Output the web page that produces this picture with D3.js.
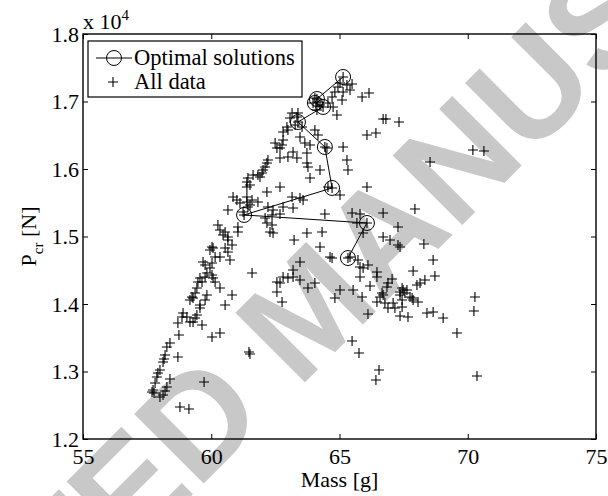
<!DOCTYPE html>
<html>
<head>
<meta charset="utf-8">
<script src="https://cdn.jsdelivr.net/npm/d3@7"></script>
<style>
  body { margin: 0; background: #fff; }
  svg text { font-family: "Liberation Serif", "Times New Roman", serif; }
</style>
</head>
<body>
<div id="chart"></div>
<script>
// every design evaluated: [mass in g, critical load in N]
const allData = [
  [65.14,17363],[65.02,17274],[65.29,17244],[65.41,17170],[64.94,17215],[64.82,17141],[65.14,17141],
  [65.49,17259],[65.88,17067],[66.15,17126],[65.10,17022],[64.75,16919],[64.90,16800],[64.04,17052],
  [64.16,16993],[63.97,16978],[64.24,16948],[64.36,16919],[64.12,16874],[64.55,16978],[64.71,17067],
  [64.12,17037],[66.70,16741],[66.81,16741],[67.32,16696],[66.07,16504],[66.42,16533],[68.53,16104],
  [70.20,16281],[70.63,16267],
  [63.15,16830],[63.38,16830],[63.34,16770],[63.07,16756],[63.38,16696],[63.27,16652],[63.54,16622],
  [62.95,16622],[62.80,16548],[62.99,16578],[64.04,16578],[64.16,16504],[63.46,16474],[63.65,16385],
  [62.80,16430],[62.76,16356],[62.49,16385],[62.56,16311],[62.68,16311],[64.51,16311],[64.43,16326],
  [65.14,16326],[65.29,16133],[65.33,15985],[63.85,16356],[63.73,16237],[63.19,16252],[63.34,16163],
  [62.99,16178],[62.68,16163],[63.73,16089],[63.77,16030],[64.24,15985],[63.85,15867],[64.55,15733],
  [64.71,15719],[62.21,16133],[62.17,16089],[62.10,16030],[62.02,15985],[61.98,15941],[61.90,15881],
  [61.82,15911],[61.63,15911],[61.43,15867],[61.39,15807],[61.51,15763],[61.39,15733],[62.17,15659],
  [62.68,15733],[66.07,15733],[63.15,15585],[63.46,15570],[63.58,15541],[60.85,15585],[61.00,15541],
  [61.12,15496],[61.39,15511],[61.59,15541],[60.65,15393],[61.24,15363],[61.43,15437],[64.43,15333],
  [62.21,15437],[62.41,15393],[62.68,15333],[62.37,15319],[65.02,15615],[65.49,15348],[65.80,15333],
  [61.39,15585],[61.51,15467],[61.82,15511],[63.19,15422],[62.80,15437],[62.10,15274],[62.17,15200],
  [62.37,15170],[62.29,15067],[62.41,15052],[63.73,15052],[64.32,15067],[63.23,14948],[64.24,14844],
  [64.63,14696],[61.28,15319],
  [60.26,15170],[60.34,15096],[60.54,15067],[60.46,15022],[60.65,14993],[61.04,15141],[61.04,15067],
  [60.65,14948],[60.81,14874],[60.03,14844],[60.07,14830],[59.95,14800],[60.54,14830],[60.65,14770],
  [60.73,14652],[60.34,14696],[60.15,14696],[59.68,14622],[59.76,14578],[60.03,14607],[59.95,14533],
  [59.83,14459],[59.76,14400],[60.03,14430],[60.07,14385],[60.15,14326],[59.56,14385],[59.48,14326],
  [59.64,14326],[60.34,14237],[59.44,14237],[59.37,14163],[59.83,14133],[59.76,14059],[59.25,14104],
  [59.17,14059],[59.29,14089],[60.81,14133],[60.54,13985],[59.56,13985],[59.56,13941],[58.90,13867],
  [58.86,13807],[59.05,13807],[59.44,13837],[59.37,13793],[59.17,13733],[59.29,13733],[58.70,13719],
  [59.64,13689],[61.59,14459],[63.46,14622],[63.19,14504],[62.80,14400],[62.99,14385],[63.19,14400],
  [62.56,14326],[62.68,14311],[62.56,14178],[63.46,14356],[63.77,14237],[64.04,14311],[62.76,14030],
  [64.82,14089],[58.74,13541],[58.39,13422],[58.27,13363],[58.20,13244],[58.12,13141],[58.00,13022],
  [57.92,12978],[58.70,13215],[58.16,13185],[60.03,13511],[60.34,13570],[61.47,13289],[61.51,13259],
  [57.88,12919],[57.81,12830],[57.73,12726],[57.69,12696],[57.77,12681],[58.27,12770],[58.20,12711],
  [59.72,12844],[58.00,12622],[58.12,12652],[58.78,12474],[59.13,12444],[58.39,12889],
  [65.68,15200],[66.07,15200],[66.70,15348],[67.94,15407],[65.92,15052],[67.28,15141],[66.70,14993],
  [66.97,14948],[67.28,14874],[67.36,14844],[68.29,14889],[68.65,14652],[64.71,14681],[65.33,14681],
  [65.41,14696],[65.72,14652],[65.80,14548],[65.92,14533],[66.11,14578],[65.80,14400],[66.46,14474],
  [66.46,14400],[66.19,14267],[67.87,14489],[68.72,14415],[68.33,14356],[68.02,14281],[68.14,14311],
  [65.02,14207],[65.53,14207],[65.88,14104],[67.05,14370],[66.89,14311],[66.85,14252],[66.66,14163],
  [66.70,14133],[66.58,14104],[67.44,14237],[67.48,14207],[67.36,14178],[67.63,14207],[67.55,14163],
  [67.75,14104],[67.83,14089],[67.87,14059],[68.06,14030],[67.36,14133],[67.44,14059],[66.46,14030],
  [66.77,14015],[67.09,14015],[66.89,13941],[67.16,13941],[67.44,13956],[66.11,13852],[67.36,13822],
  [67.67,13807],[68.41,13867],[68.65,13881],[69.04,13793],[70.28,14104],[70.24,13896],[69.58,13570],
  [65.49,13452],[65.76,13274],[66.54,13022],[66.42,12874],[70.36,12933]
];

// pareto front, joined in order of falling critical load
const optimal = [
  [65.14,17363],[64.12,17037],[64.04,16978],[64.36,16919],[63.38,16696],
  [64.43,16326],[64.71,15719],[61.28,15319],[66.07,15200],[65.33,14681]
];

const xTicks = [55, 60, 65, 70, 75];
const yTicks = [12000, 13000, 14000, 15000, 16000, 17000, 18000];
const legendLabels = ["Optimal solutions", "All data"];

(function(){

  let width = 608;
  let height = 496;
  let left = 83, right = 596, top = 34, bottom = 439;

  let svg = d3.select('#chart')
            .append("svg")
            .attr("width", width)
            .attr("height", height)
            .style("display", "block");

  svg.append("rect").attr("width", width).attr("height", height).attr("fill", "#fff");

  let x = d3.scaleLinear().domain([55, 75]).range([left, right]);
  let y = d3.scaleLinear().domain([12000, 18000]).range([bottom, top]);

  //watermark of the journal, sits behind everything
  let wm = svg.append("g")
      .attr("transform", "translate(248,367) rotate(-45)")
      .attr("fill", "#c8c8c8")
      .style("font-weight", "bold")
      .style("font-size", "143px");
  wm.append("text").attr("x", -20).attr("y", 51).attr("text-anchor", "end")
      .style("font-family", "'Liberation Sans', Arial, sans-serif").text("ACCEPTED");
  wm.append("text").attr("x", 20).attr("y", 51).attr("text-anchor", "start")
      .style("font-family", "'Liberation Sans', Arial, sans-serif").text("MANUSCRIPT");

  //axes, matlab style: ticks pointing inside on all four sides
  let fmtY = d => (d / 1e4).toFixed(1);

  let gx = svg.append("g").attr("transform", "translate(0," + bottom + ")")
      .call(d3.axisBottom(x).tickValues(xTicks).tickSizeInner(-5).tickSizeOuter(0).tickPadding(9));
  let gxTop = svg.append("g").attr("transform", "translate(0," + top + ")")
      .call(d3.axisTop(x).tickValues(xTicks).tickSizeInner(-5).tickSizeOuter(0).tickFormat(""));
  let gy = svg.append("g").attr("transform", "translate(" + left + ",0)")
      .call(d3.axisLeft(y).tickValues(yTicks).tickSizeInner(-5).tickSizeOuter(0).tickPadding(4).tickFormat(fmtY));
  let gyRight = svg.append("g").attr("transform", "translate(" + right + ",0)")
      .call(d3.axisRight(y).tickValues(yTicks).tickSizeInner(-5).tickSizeOuter(0).tickFormat(""));

  [gx, gxTop, gy, gyRight].forEach(function(g){
    g.select(".domain").remove();
    g.selectAll(".tick line").attr("stroke", "#000").attr("stroke-width", 1);
    g.selectAll(".tick text")
      .attr("fill", "#000")
      .style("font-family", "'Liberation Serif', 'Times New Roman', serif")
      .style("font-size", "22px");
  });

  svg.append("rect")
    .attr("x", left).attr("y", top)
    .attr("width", right - left).attr("height", bottom - top)
    .attr("fill", "none").attr("stroke", "#000").attr("stroke-width", 1.4);

  //all data as plus markers
  let plus = "M-5,0H5M0,-5V5";
  svg.append("g").selectAll(".pt")
    .data(allData)
    .enter().append("path")
    .attr("class", "pt")
    .attr("d", plus)
    .attr("transform", d => "translate(" + x(d[0]) + "," + y(d[1]) + ")")
    .attr("stroke", "#000")
    .attr("stroke-width", 1.1)
    .attr("fill", "none");

  //optimal solutions: line plus open circles
  let line = d3.line().x(d => x(d[0])).y(d => y(d[1]));
  svg.append("path")
    .datum(optimal)
    .attr("d", line)
    .attr("fill", "none")
    .attr("stroke", "#000")
    .attr("stroke-width", 1);

  svg.append("g").selectAll(".opt")
    .data(optimal)
    .enter().append("circle")
    .attr("class", "opt")
    .attr("cx", d => x(d[0]))
    .attr("cy", d => y(d[1]))
    .attr("r", 7.5)
    .attr("fill", "none")
    .attr("stroke", "#000")
    .attr("stroke-width", 1);

  //exponent above the y axis
  let expo = svg.append("text")
    .attr("x", 83).attr("y", 29)
    .style("font-size", "22px");
  expo.append("tspan").text("x 10");
  expo.append("tspan").attr("dy", -9).style("font-size", "15px").text("4");

  //axis titles
  svg.append("text")
    .attr("x", (left + right) / 2).attr("y", 487)
    .attr("text-anchor", "middle")
    .style("font-size", "22px")
    .text("Mass [g]");

  let ylab = svg.append("text")
    .attr("transform", "translate(36," + ((top + bottom) / 2) + ") rotate(-90)")
    .attr("text-anchor", "middle")
    .style("font-size", "22px");
  ylab.append("tspan").text("P");
  ylab.append("tspan").attr("dy", 7).style("font-size", "15px").text("cr");
  ylab.append("tspan").attr("dy", -7).text(" [N]");

  //legend
  let lg = svg.append("g");
  lg.append("rect")
    .attr("x", 88).attr("y", 41).attr("width", 214).attr("height", 56)
    .attr("fill", "#fff").attr("stroke", "#000").attr("stroke-width", 1.2);
  lg.append("line")
    .attr("x1", 96).attr("x2", 132).attr("y1", 58).attr("y2", 58)
    .attr("stroke", "#000").attr("stroke-width", 1);
  lg.append("circle")
    .attr("cx", 114).attr("cy", 58).attr("r", 7.5)
    .attr("fill", "none").attr("stroke", "#000").attr("stroke-width", 1);
  lg.append("path")
    .attr("d", plus)
    .attr("transform", "translate(113,82)")
    .attr("stroke", "#000").attr("stroke-width", 1.1);
  lg.selectAll(".lbl")
    .data(legendLabels)
    .enter().append("text")
    .attr("class", "lbl")
    .attr("x", 134)
    .attr("y", (d, i) => 65 + i * 24)
    .style("font-size", "22.5px")
    .text(d => d);

})();
</script>
</body>
</html>
